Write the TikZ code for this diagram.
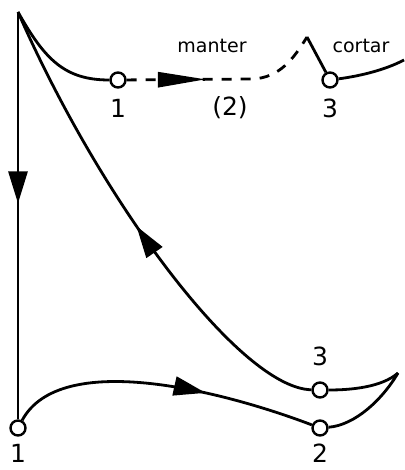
\documentclass[tikz,border=0pt]{standalone}
\usepackage{fontspec}
\setmainfont{DejaVu Sans}
\usepackage{tikz}
\usetikzlibrary{arrows.meta,positioning,decorations.markings}

\begin{document}
\begin{tikzpicture}[
  x=1pt, y=-1pt,
  line width=2.8pt,
  state/.style={circle, draw, fill=white, line width=2.4pt, minimum size=15pt,
    inner sep=0pt},
  num/.style={inner sep=0pt, font=\fontsize{25}{27}\selectfont},
  word/.style={inner sep=0pt, anchor=base, font=\fontsize{19}{21}\selectfont},
  flow/.style={postaction={decorate}, decoration={markings,
    mark=at position #1 with {\arrow{Triangle[length=32pt,width=19pt]}}}},
  longflow/.style={postaction={decorate}, decoration={markings,
    mark=at position #1 with {\arrow{Triangle[length=48pt,width=15pt]}}}},
  node distance=10pt
]
\useasboundingbox (0,0) rectangle (404,470);

% corners of the path
\coordinate (apex) at (18,12);
\coordinate (kink) at (307,37);
\coordinate (edge) at (404,60);
\coordinate (tip) at (398,373);

% states
\node[state] (c1) at (118,80) {};
\node[state] (c3) at (330,80) {};
\node[state] (b1) at (18,428) {};
\node[state] (b3) at (320,390) {};
\node[state] (b2) at (320,428) {};

% labels
\node[num,below=9pt of c1] (n1) {1};
\node[num] (n2) at (230,108) {(2)};
\node[num,below=9pt of c3] (n3) {3};
\node[num,below=6pt of b1] (m1) {1};
\node[num,below=6pt of b2] (m2) {2};
\node[num,above=14pt of b3] (m3) {3};
\node[word] (keep) at (212,53) {manter};
\node[word] (cut) at (361,53) {cortar};

% top branch
\draw (apex) .. controls (45,60) and (65,80) .. (c1);
\draw[dash pattern=on 10pt off 9pt, longflow=0.4]
  (c1) -- (252,79) .. controls (280,78) and (294,58) .. (kink);
\draw (kink) -- (c3);
\draw (c3) .. controls (360,76) and (385,70) .. (edge);

% lower loop
\draw[flow=0.47] (apex) -- (b1);
\draw[flow=0.64] (b1) .. controls (60,350) and (220,390) .. (b2);
\draw (b2) .. controls (355,425) and (382,400) .. (tip);
\draw (tip) .. controls (382,387) and (352,390) .. (b3);
\draw[flow=0.5] (b3) .. controls (240,388) and (100,200) .. (apex);
\end{tikzpicture}
\end{document}
